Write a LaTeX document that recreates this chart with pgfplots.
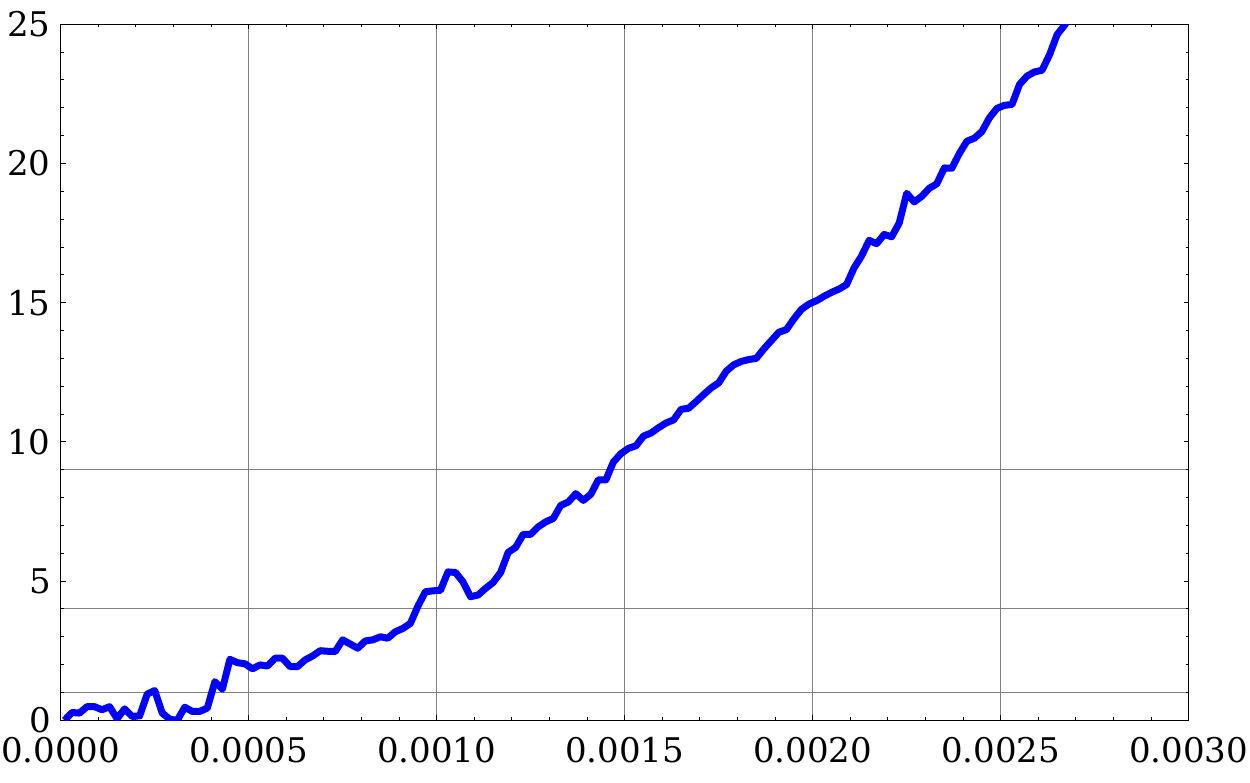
\documentclass[border=0pt]{standalone}
\usepackage{pgfplots}
\usepackage{pgfplotstable}
\pgfplotsset{compat=1.18}
\usepackage{fontspec}
\setmainfont{DejaVu Serif}

% bin centres, step 2e-5
\pgfplotstableread{
x y
0.00001 0.00
0.00003 0.28
0.00005 0.26
0.00007 0.49
0.00009 0.49
0.00011 0.38
0.00013 0.49
0.00015 0.06
0.00017 0.41
0.00019 0.14
0.00021 0.16
0.00023 0.94
0.00025 1.07
0.00027 0.26
0.00029 0.04
0.00031 0.00
0.00033 0.47
0.00035 0.32
0.00037 0.32
0.00039 0.44
0.00041 1.39
0.00043 1.12
0.00045 2.19
0.00047 2.07
0.00049 2.03
0.00051 1.85
0.00053 1.99
0.00055 1.95
0.00057 2.23
0.00059 2.23
0.00061 1.93
0.00063 1.93
0.00065 2.17
0.00067 2.31
0.00069 2.50
0.00071 2.48
0.00073 2.47
0.00075 2.89
0.00077 2.74
0.00079 2.59
0.00081 2.85
0.00083 2.89
0.00085 3.00
0.00087 2.95
0.00089 3.18
0.00091 3.30
0.00093 3.48
0.00095 4.10
0.00097 4.62
0.00099 4.65
0.00101 4.67
0.00103 5.33
0.00105 5.31
0.00107 4.97
0.00109 4.44
0.00111 4.50
0.00113 4.74
0.00115 4.95
0.00117 5.31
0.00119 6.03
0.00121 6.21
0.00123 6.68
0.00125 6.68
0.00127 6.95
0.00129 7.13
0.00131 7.25
0.00133 7.72
0.00135 7.84
0.00137 8.14
0.00139 7.90
0.00141 8.12
0.00143 8.64
0.00145 8.64
0.00147 9.28
0.00149 9.58
0.00151 9.77
0.00153 9.86
0.00155 10.21
0.00157 10.32
0.00159 10.51
0.00161 10.68
0.00163 10.79
0.00165 11.17
0.00167 11.21
0.00169 11.45
0.00171 11.70
0.00173 11.94
0.00175 12.12
0.00177 12.54
0.00179 12.77
0.00181 12.89
0.00183 12.96
0.00185 13.00
0.00187 13.34
0.00189 13.64
0.00191 13.94
0.00193 14.03
0.00195 14.42
0.00197 14.76
0.00199 14.95
0.00201 15.07
0.00203 15.23
0.00205 15.37
0.00207 15.49
0.00209 15.65
0.00211 16.25
0.00213 16.68
0.00215 17.24
0.00217 17.12
0.00219 17.45
0.00221 17.37
0.00223 17.86
0.00225 18.93
0.00227 18.62
0.00229 18.82
0.00231 19.11
0.00233 19.27
0.00235 19.84
0.00237 19.83
0.00239 20.36
0.00241 20.80
0.00243 20.91
0.00245 21.15
0.00247 21.64
0.00249 21.98
0.00251 22.09
0.00253 22.12
0.00255 22.84
0.00257 23.14
0.00259 23.29
0.00261 23.35
0.00263 23.91
0.00265 24.63
0.00267 24.97
0.00269 25.40
}\datatable

\begin{document}
\begin{tikzpicture}
\begin{axis}[
  name=ax,
  scale only axis,
  width=564pt, height=348pt,
  xmin=0, xmax=0.003, ymin=0, ymax=25,
  xtick={0,0.0005,0.001,0.0015,0.002,0.0025,0.003},
  ytick={0,5,10,15,20,25},
  minor x tick num=4, minor y tick num=4,
  scaled x ticks=false,
  /pgf/number format/assume math mode=true,
  tick label style={font=\fontsize{17}{20}\selectfont},
  x tick label style={yshift=-5pt, /pgf/number format/fixed,
    /pgf/number format/fixed zerofill, /pgf/number format/precision=4},
  y tick label style={xshift=-1.5pt},
  axis line style={black, line width=0.6pt},
  tick style={black, line width=0.5pt},
  major tick length=2.5pt, minor tick length=1.5pt,
  xmajorgrids,
  major grid style={gray, line width=0.5pt},
  extra y ticks={1,4,9},
  extra y tick labels={},
  extra y tick style={grid=major, major tick length=1.5pt},
]
\addplot[blue, line width=3.5pt, line join=round, mark=none] table[x=x, y=y] {\datatable};
\end{axis}
\pgfresetboundingbox
\path ([shift={(-30.35pt,-31.25pt)}]ax.south west) rectangle ([shift={(30.65pt,12.15pt)}]ax.north east);
\end{tikzpicture}
\end{document}
